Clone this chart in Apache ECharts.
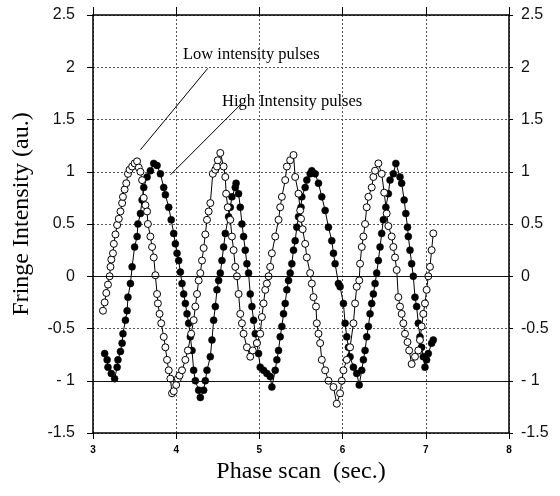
<!DOCTYPE html>
<html>
<head>
<meta charset="utf-8">
<script src="https://cdn.jsdelivr.net/npm/echarts@6/dist/echarts.min.js"></script>
<style>
  html, body { margin: 0; padding: 0; background: #fff; }
  #main { width: 560px; height: 496px; }
</style>
</head>
<body>
<div id="main"></div>
<script>
// open circles
const lowPulses = [
  [3.12, -0.33], [3.14, -0.25], [3.16, -0.16], [3.18, -0.08], [3.20, 0.0], [3.21, 0.09],
  [3.22, 0.16], [3.24, 0.22], [3.25, 0.31], [3.27, 0.40], [3.29, 0.49], [3.31, 0.55],
  [3.33, 0.62], [3.35, 0.70], [3.36, 0.76], [3.38, 0.83], [3.40, 0.89], [3.42, 0.98],
  [3.44, 1.02], [3.47, 1.05], [3.50, 1.08], [3.53, 1.10], [3.55, 1.04], [3.57, 1.00],
  [3.59, 0.92], [3.61, 0.75], [3.63, 0.68], [3.65, 0.62], [3.66, 0.50], [3.69, 0.38],
  [3.71, 0.28], [3.73, 0.18], [3.75, 0.01], [3.77, -0.17], [3.78, -0.26], [3.80, -0.36],
  [3.82, -0.45], [3.85, -0.58], [3.87, -0.68], [3.89, -0.80], [3.91, -0.90], [3.93, -0.98],
  [3.95, -1.12], [3.97, -1.10], [4.00, -1.04], [4.02, -0.98], [4.04, -0.95], [4.07, -0.90],
  [4.11, -0.80], [4.14, -0.71], [4.18, -0.55], [4.21, -0.42], [4.23, -0.29], [4.25, -0.17],
  [4.27, -0.04], [4.29, 0.03], [4.31, 0.15], [4.33, 0.27], [4.35, 0.40], [4.37, 0.54],
  [4.39, 0.62], [4.41, 0.70], [4.44, 0.98], [4.47, 1.02], [4.49, 1.05], [4.50, 1.11],
  [4.53, 1.18], [4.57, 1.05], [4.59, 0.95], [4.60, 0.79], [4.62, 0.66], [4.65, 0.54],
  [4.67, 0.38], [4.69, 0.25], [4.71, 0.09], [4.73, 0.0], [4.75, -0.17], [4.77, -0.36],
  [4.79, -0.45], [4.81, -0.55], [4.85, -0.68], [4.89, -0.77], [4.92, -0.71], [4.97, -0.64],
  [5.01, -0.55], [5.03, -0.39], [5.05, -0.26], [5.07, -0.13], [5.09, -0.07], [5.11, 0.0],
  [5.13, 0.09], [5.15, 0.22], [5.19, 0.38], [5.23, 0.54], [5.25, 0.66], [5.27, 0.76],
  [5.31, 0.92], [5.33, 1.05], [5.37, 1.11], [5.41, 1.16], [5.43, 0.95], [5.47, 0.79],
  [5.49, 0.63], [5.50, 0.55], [5.52, 0.45], [5.55, 0.31], [5.57, 0.18], [5.61, 0.03],
  [5.63, -0.07], [5.65, -0.20], [5.68, -0.29], [5.69, -0.45], [5.71, -0.55], [5.73, -0.64],
  [5.75, -0.80], [5.79, -0.90], [5.83, -1.00], [5.89, -1.06], [5.93, -1.22], [5.97, -1.12],
  [5.99, -1.00], [6.01, -0.90], [6.05, -0.80], [6.09, -0.68], [6.13, -0.45], [6.15, -0.26],
  [6.17, -0.10], [6.20, -0.04], [6.21, 0.12], [6.23, 0.28], [6.25, 0.38], [6.27, 0.50],
  [6.29, 0.66], [6.31, 0.76], [6.35, 0.85], [6.37, 0.95], [6.39, 1.01], [6.43, 1.08],
  [6.47, 0.98], [6.50, 0.80], [6.53, 0.60], [6.55, 0.48], [6.59, 0.38], [6.61, 0.28],
  [6.63, 0.18], [6.65, 0.06], [6.67, -0.20], [6.69, -0.29], [6.71, -0.36], [6.73, -0.45],
  [6.75, -0.55], [6.78, -0.63], [6.80, -0.71], [6.83, -0.84], [6.87, -0.77], [6.91, -0.71],
  [6.93, -0.61], [6.95, -0.48], [6.97, -0.36], [6.99, -0.26], [7.01, -0.13], [7.03, 0.0],
  [7.05, 0.09], [7.07, 0.25], [7.09, 0.41]
];

// filled circles
const highPulses = [
  [3.14, -0.74], [3.17, -0.80], [3.18, -0.87], [3.22, -0.93], [3.26, -0.98], [3.29, -0.87],
  [3.30, -0.80], [3.33, -0.72], [3.35, -0.64], [3.36, -0.55], [3.39, -0.42], [3.41, -0.33],
  [3.42, -0.20], [3.45, -0.07], [3.47, 0.09], [3.50, 0.28], [3.53, 0.38], [3.54, 0.50],
  [3.57, 0.60], [3.59, 0.73], [3.61, 0.85], [3.65, 0.95], [3.69, 1.01], [3.73, 1.08],
  [3.77, 1.06], [3.81, 0.98], [3.85, 0.85], [3.87, 0.78], [3.91, 0.66], [3.94, 0.54],
  [3.97, 0.41], [3.99, 0.31], [4.01, 0.22], [4.03, 0.15], [4.05, 0.04], [4.07, -0.07],
  [4.09, -0.17], [4.11, -0.26], [4.13, -0.36], [4.15, -0.45], [4.17, -0.58], [4.19, -0.71],
  [4.21, -0.90], [4.23, -1.00], [4.27, -1.09], [4.29, -1.16], [4.33, -1.09], [4.35, -1.00],
  [4.37, -0.90], [4.41, -0.77], [4.43, -0.61], [4.45, -0.42], [4.47, -0.29], [4.49, -0.13],
  [4.51, -0.04], [4.53, 0.03], [4.55, 0.15], [4.57, 0.28], [4.59, 0.41], [4.63, 0.57],
  [4.65, 0.66], [4.67, 0.76], [4.71, 0.85], [4.72, 0.89], [4.75, 0.79], [4.77, 0.66],
  [4.79, 0.50], [4.81, 0.38], [4.83, 0.25], [4.85, 0.12], [4.87, 0.03], [4.89, -0.17],
  [4.91, -0.29], [4.93, -0.42], [4.95, -0.55], [4.97, -0.64], [4.99, -0.74], [5.01, -0.87],
  [5.05, -0.90], [5.09, -0.93], [5.13, -0.96], [5.15, -1.06], [5.19, -0.90], [5.21, -0.80],
  [5.23, -0.71], [5.25, -0.58], [5.27, -0.48], [5.29, -0.36], [5.31, -0.26], [5.33, -0.13],
  [5.35, -0.04], [5.37, 0.03], [5.39, 0.12], [5.41, 0.25], [5.43, 0.34], [5.45, 0.47],
  [5.47, 0.57], [5.50, 0.66], [5.51, 0.76], [5.55, 0.85], [5.57, 0.92], [5.61, 0.98],
  [5.63, 1.01], [5.67, 0.98], [5.71, 0.89], [5.75, 0.76], [5.79, 0.63], [5.83, 0.47],
  [5.87, 0.34], [5.89, 0.22], [5.91, 0.12], [5.95, -0.07], [5.97, -0.10], [6.01, -0.26],
  [6.03, -0.45], [6.05, -0.58], [6.07, -0.68], [6.09, -0.77], [6.13, -0.87], [6.17, -0.93],
  [6.20, -1.04], [6.23, -0.90], [6.25, -0.80], [6.27, -0.71], [6.29, -0.58], [6.31, -0.48],
  [6.33, -0.36], [6.35, -0.26], [6.37, -0.17], [6.39, -0.07], [6.41, 0.03], [6.43, 0.15],
  [6.45, 0.28], [6.47, 0.41], [6.49, 0.54], [6.52, 0.66], [6.55, 0.79], [6.57, 0.92],
  [6.61, 0.98], [6.64, 1.08], [6.69, 0.95], [6.71, 0.89], [6.74, 0.73], [6.76, 0.60],
  [6.78, 0.47], [6.79, 0.38], [6.81, 0.25], [6.83, 0.12], [6.85, 0.0], [6.87, -0.20],
  [6.89, -0.29], [6.91, -0.45], [6.93, -0.58], [6.95, -0.68], [6.97, -0.77], [6.99, -0.87],
  [7.01, -0.80], [7.03, -0.74], [7.07, -0.64], [7.09, -0.61]
];

// leader lines for the two captions, in data coords
const lowLeader = [[3.57, 1.21], [4.38, 1.99]];
const highLeader = [[3.93, 0.97], [4.77, 1.64]];
// darker reference lines across the plot
const solidLevels = [0, -1];

const serif = '"Liberation Serif", "DejaVu Serif", serif';
const sans = '"Liberation Sans", Arial, sans-serif';

const yFmt = v => (v === -1 ? '- 1' : String(v));

const gridLine = { show: true, lineStyle: { color: '#555', type: [2, 2], width: 1 } };

const chart = echarts.init(document.getElementById('main'), null, { renderer: 'canvas' });

chart.setOption({
  animation: false,
  backgroundColor: '#fff',
  grid: { left: 93, right: 51, top: 15, bottom: 63 },
  xAxis: [
    {
      type: 'value', min: 3, max: 8, interval: 1, position: 'bottom',
      axisLine: { show: true, onZero: false, lineStyle: { color: '#000', width: 1.5 } },
      axisTick: { show: true, inside: false, length: 6, lineStyle: { color: '#000' } },
      axisLabel: { color: '#000', fontFamily: sans, fontSize: 10, fontWeight: 'bold', margin: 12 },
      splitLine: gridLine,
      name: 'Phase scan  (sec.)', nameLocation: 'middle', nameGap: 24,
      nameTextStyle: { fontFamily: serif, fontSize: 24, color: '#000' }
    },
    {
      type: 'value', min: 3, max: 8, interval: 1, position: 'top',
      axisLine: { show: true, onZero: false, lineStyle: { color: '#000', width: 1.5 } },
      axisTick: { show: true, inside: false, length: 8, lineStyle: { color: '#000' } },
      axisLabel: { show: false },
      splitLine: { show: false }
    }
  ],
  yAxis: [
    {
      type: 'value', min: -1.5, max: 2.5, interval: 0.5, position: 'left',
      axisLine: { show: true, onZero: false, lineStyle: { color: '#000', width: 1.5 } },
      axisTick: { show: true, inside: false, length: 6, lineStyle: { color: '#000' } },
      axisLabel: { color: '#111', fontFamily: sans, fontSize: 16, margin: 18, formatter: yFmt },
      splitLine: gridLine
    },
    {
      type: 'value', min: -1.5, max: 2.5, interval: 0.5, position: 'right',
      axisLine: { show: true, onZero: false, lineStyle: { color: '#000', width: 1.5 } },
      axisTick: { show: true, inside: false, length: 4, lineStyle: { color: '#000' } },
      axisLabel: { color: '#111', fontFamily: sans, fontSize: 16, margin: 12, formatter: yFmt },
      splitLine: { show: false }
    }
  ],
  graphic: [
    {
      type: 'text', x: 22, y: 214, rotation: Math.PI / 2,
      style: {
        text: 'Fringe Intensity (au.)', font: '24px ' + serif, fill: '#000',
        align: 'center', verticalAlign: 'middle'
      }
    },
    {
      type: 'text', x: 183, y: 55,
      style: { text: 'Low intensity pulses', font: '16.5px ' + serif, fill: '#000', align: 'left', verticalAlign: 'middle' }
    },
    {
      type: 'text', x: 222, y: 102,
      style: { text: 'High Intensity pulses', font: '16.5px ' + serif, fill: '#000', align: 'left', verticalAlign: 'middle' }
    }
  ],
  series: [
    {
      name: 'High intensity pulses', type: 'line', data: highPulses,
      symbol: 'circle', symbolSize: 7, showAllSymbol: true,
      lineStyle: { color: '#000', width: 1 },
      itemStyle: { color: '#000', borderColor: '#000', borderWidth: 0.5 },
      markLine: {
        silent: true, symbol: 'none', label: { show: false },
        lineStyle: { color: '#000', width: 1, type: 'solid' },
        data: [
          [{ coord: lowLeader[0] }, { coord: lowLeader[1] }],
          [{ coord: highLeader[0] }, { coord: highLeader[1] }]
        ].concat(solidLevels.map(v => ({ yAxis: v, lineStyle: { color: '#111', width: 1.2 } })))
      }
    },
    {
      name: 'Low intensity pulses', type: 'line', data: lowPulses,
      symbol: 'circle', symbolSize: 7, showAllSymbol: true,
      lineStyle: { color: '#000', width: 1 },
      itemStyle: { color: '#fff', borderColor: '#000', borderWidth: 1 }
    }
  ]
});
</script>
</body>
</html>
